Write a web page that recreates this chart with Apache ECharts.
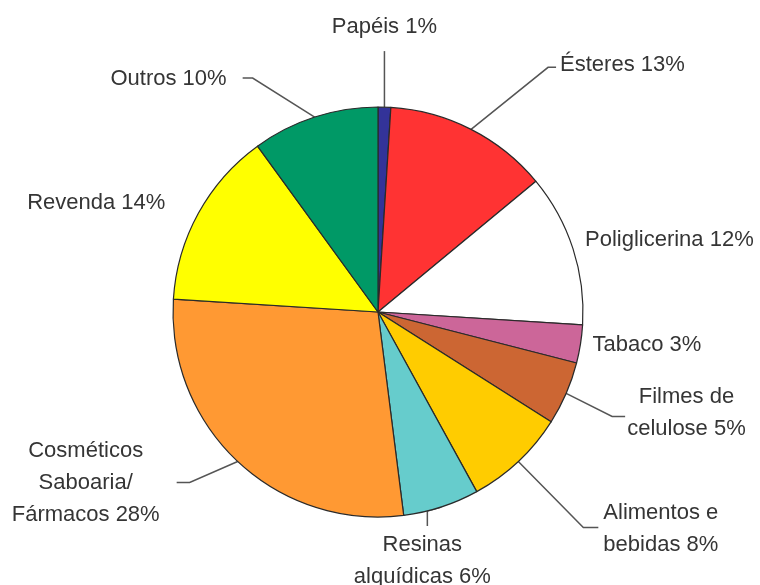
<!DOCTYPE html>
<html>
<head>
<meta charset="utf-8">
<script src="https://cdn.jsdelivr.net/npm/echarts@6/dist/echarts.min.js"></script>
<style>html,body{margin:0;padding:0;background:#fff}#c{width:760px;height:585px}</style>
</head>
<body>
<div id="c"></div>
<script>
// Data (clockwise from top)
const categories = ['Papéis', 'Ésteres', 'Poliglicerina', 'Tabaco', 'Filmes de\ncelulose', 'Alimentos e\nbebidas', 'Resinas\nalquídicas', 'Cosméticos\nSaboaria/\nFármacos', 'Revenda', 'Outros'];
const percentages = [1, 13, 12, 3, 5, 8, 6, 28, 14, 10];
const sliceColors = ['#333399', '#ff3333', '#ffffff', '#cc6699', '#cc6633', '#ffcc00', '#66cccc', '#ff9933', '#ffff00', '#009966'];

// Label layout relative to the slice's outer edge point (given by ECharts)
// line: elbow and end offsets; at: text anchor offset; edge: which side of text block sits at anchor
const labelGeom = [
  { line: [[0, -56], [0, -56]], at: [0, -80], align: 'center' },
  { line: [[77, -62], [85, -62]], at: [89, -64], align: 'left' },
  { line: null, at: [12, -9], align: 'left' },
  { line: null, at: [12, 1], align: 'left' },
  { line: [[46, 23], [59, 23]], at: [61, 20], edge: 'left' },
  { line: [[65, 66], [80, 66]], at: [85, 67], align: 'left' },
  { line: [[-14, 4], [-14, 19]], at: [-19, 54], align: 'center' },
  { line: [[-48, 21], [-61, 21]], at: [-78, 21], edge: 'right' },
  { line: null, at: [-33, -10], align: 'right' },
  { line: [[-62, -39], [-72, -39]], at: [-88, -38], align: 'right' }
];

const chart = echarts.init(document.getElementById('c'), null, { renderer: 'canvas' });
chart.setOption({
  animation: false,
  backgroundColor: '#ffffff',
  series: [{
    type: 'pie',
    center: [378, 312],
    radius: 205,
    startAngle: 90,
    clockwise: true,
    avoidLabelOverlap: false,
    silent: true,
    data: categories.map((n, i) => ({ name: n, value: percentages[i], itemStyle: { color: sliceColors[i] } })),
    itemStyle: { borderColor: '#2a2a2a', borderWidth: 1.2 },
    label: {
      show: true,
      position: 'outside',
      formatter: '{b} {c}%',
      fontFamily: 'Liberation Sans, Arial, sans-serif',
      fontSize: 22,
      lineHeight: 32,
      color: '#353535'
    },
    labelLine: { show: true, length: 20, length2: 10, smooth: false, lineStyle: { color: '#555555', width: 1.5 } },
    labelLayout: function (p) {
      const g = labelGeom[p.dataIndex];
      const e = p.labelLinePoints ? p.labelLinePoints[0] : [0, 0];
      const pts = g.line
        ? [e, [e[0] + g.line[0][0], e[1] + g.line[0][1]], [e[0] + g.line[1][0], e[1] + g.line[1][1]]]
        : [e, e, e];
      let x = e[0] + g.at[0];
      const y = e[1] + g.at[1];
      let align = g.align;
      if (g.edge === 'left') { x += p.labelRect.width / 2; align = 'center'; }
      else if (g.edge === 'right') { x -= p.labelRect.width / 2; align = 'center'; }
      return { x: x, y: y, align: align, verticalAlign: 'middle', labelLinePoints: pts };
    }
  }]
});
</script>
</body>
</html>
